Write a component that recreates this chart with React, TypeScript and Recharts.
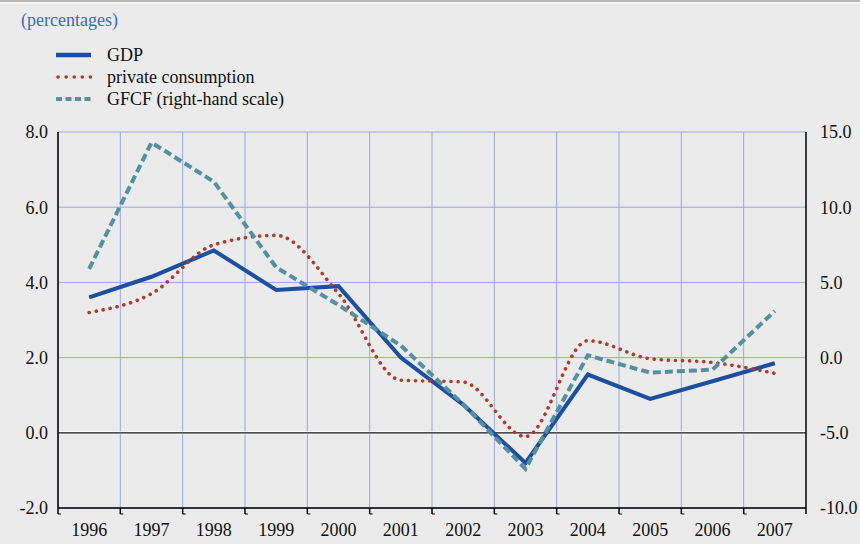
import React from 'react';
import { LineChart, Line, XAxis, YAxis, CartesianGrid, ReferenceLine } from 'recharts';

const years = ['1996', '1997', '1998', '1999', '2000', '2001', '2002', '2003', '2004', '2005', '2006', '2007'];
const gdp = [3.6, 4.15, 4.85, 3.8, 3.9, 2.0, 0.75, -0.8, 1.55, 0.9, 1.37, 1.85];
const consumption = [3.2, 3.7, 5.0, 5.25, 3.7, 1.4, 1.35, -0.1, 2.45, 1.97, 1.87, 1.58];
const gfcf = [5.9, 14.3, 11.7, 6.0, 3.5, 0.8, -3.1, -7.4, 0.15, -1.0, -0.8, 3.1];

const leftTicks = [-2, 0, 2, 4, 6, 8];
const rightTicks = [-10, -5, 0, 5, 10, 15];

const data = years.map((y, i) => ({ year: y, gdp: gdp[i], consumption: consumption[i], gfcf: gfcf[i] }));

const FONT = 'Liberation Serif, DejaVu Serif, serif';
const BLUE = '#1c4f9f';
const RED = '#b03a2e';
const TEAL = '#5590a0';
const GRID = '#9aa6e2';
const TICK_SIZE = 6;
const TICK_MARGIN = 9;

const YearTick = (props: any) => {
  const { x, y, payload, index, width } = props;
  const w = typeof width === 'number' && width > 0 ? width : 748;
  const half = w / years.length / 2;
  const axisY = y - TICK_SIZE - TICK_MARGIN;
  const isLast = index === years.length - 1;
  return (
    <g>
      <line x1={x - half} x2={x - half} y1={axisY} y2={axisY + TICK_SIZE} stroke="#000" strokeWidth={1.5} />
      <line x1={x - half} x2={x - half + 3} y1={axisY + TICK_SIZE} y2={axisY + TICK_SIZE} stroke="#000" strokeWidth={1} />
      {isLast && <line x1={x + half} x2={x + half} y1={axisY} y2={axisY + TICK_SIZE} stroke="#000" strokeWidth={1.5} />}
      <text x={x} y={y} dy="0.71em" textAnchor="middle" fill="#111" fontSize={18} style={{ fontFamily: FONT }}>
        {payload.value}
      </text>
    </g>
  );
};

const fmt = (v: number) => v.toFixed(1);

export default function App() {
  return (
    <div style={{ position: 'absolute', left: 0, top: 0, width: 860, height: 544, background: '#ebebeb', fontFamily: FONT, overflow: 'hidden' }}>
      <div style={{ position: 'absolute', left: 0, top: 0, width: 860, height: 2, background: '#b8b8b8' }} />
      <div style={{ position: 'absolute', left: 0, top: 2, width: 860, height: 2, background: '#f6f6f6' }} />
      <LineChart width={860} height={544} data={data} margin={{ top: 132, right: 0, bottom: 0, left: 0 }} style={{ fontFamily: FONT }}>
        <CartesianGrid xAxisId="cat" yAxisId="left" vertical={false} stroke={GRID} strokeWidth={1} />
        {years.map((y) => (
          <ReferenceLine key={'g' + y} xAxisId="cat" yAxisId="left" x={y} position="start" stroke={GRID} strokeWidth={1} />
        ))}
        <XAxis
          xAxisId="cat"
          dataKey="year"
          type="category"
          scale="band"
          interval={0}
          height={36}
          axisLine={{ stroke: '#000', strokeWidth: 1.5 }}
          tickLine={false}
          tickSize={TICK_SIZE}
          tickMargin={TICK_MARGIN}
          tick={(p: any) => <YearTick {...p} />}
        />
        <YAxis
          yAxisId="left"
          orientation="left"
          width={58}
          domain={[-2, 8]}
          ticks={leftTicks}
          interval={0}
          tickFormatter={fmt}
          axisLine={{ stroke: '#000', strokeWidth: 1.5 }}
          tickLine={false}
          tickMargin={4}
          tick={{ fill: '#111', fontSize: 18, style: { fontFamily: FONT } }}
        />
        <YAxis
          yAxisId="right"
          orientation="right"
          width={54}
          domain={[-10, 15]}
          ticks={rightTicks}
          interval={0}
          tickFormatter={fmt}
          axisLine={{ stroke: '#000', strokeWidth: 1.5 }}
          tickLine={false}
          tickMargin={8}
          tick={{ fill: '#111', fontSize: 18, textAnchor: 'start', style: { fontFamily: FONT } }}
        />
        <ReferenceLine xAxisId="cat" yAxisId="left" y={0} stroke="#ffffff" strokeWidth={3} />
        <ReferenceLine xAxisId="cat" yAxisId="left" y={0} stroke="#111" strokeWidth={1.2} />
        <Line xAxisId="cat" yAxisId="left" type="linear" dataKey="gdp" stroke={BLUE} strokeWidth={4} dot={false} isAnimationActive={false} />
        <Line xAxisId="cat" yAxisId="left" type="monotone" dataKey="consumption" stroke={RED} strokeWidth={3.6} strokeDasharray="0.1 7" strokeLinecap="round" dot={false} isAnimationActive={false} />
        <Line xAxisId="cat" yAxisId="right" type="linear" dataKey="gfcf" stroke={TEAL} strokeWidth={4} strokeDasharray="8 4" dot={false} isAnimationActive={false} />
      </LineChart>
      <svg width={860} height={130} style={{ position: 'absolute', left: 0, top: 0, pointerEvents: 'none', fontFamily: FONT }}>
        <text x={21} y={20} dominantBaseline="central" fill="#3b6db3" fontSize={18}>(percentages)</text>
        <line x1={56} x2={91} y1={55} y2={55} stroke={BLUE} strokeWidth={4.5} />
        <text x={107} y={55} dominantBaseline="central" fill="#111" fontSize={18}>GDP</text>
        <line x1={58} x2={91} y1={77} y2={77} stroke={RED} strokeWidth={3.6} strokeDasharray="0.1 8" strokeLinecap="round" />
        <text x={107} y={77} dominantBaseline="central" fill="#111" fontSize={18}>private consumption</text>
        <line x1={56} x2={92} y1={99} y2={99} stroke={TEAL} strokeWidth={4} strokeDasharray="6 3.5" />
        <text x={107} y={99} dominantBaseline="central" fill="#111" fontSize={18}>GFCF (right-hand scale)</text>
      </svg>
    </div>
  );
}
